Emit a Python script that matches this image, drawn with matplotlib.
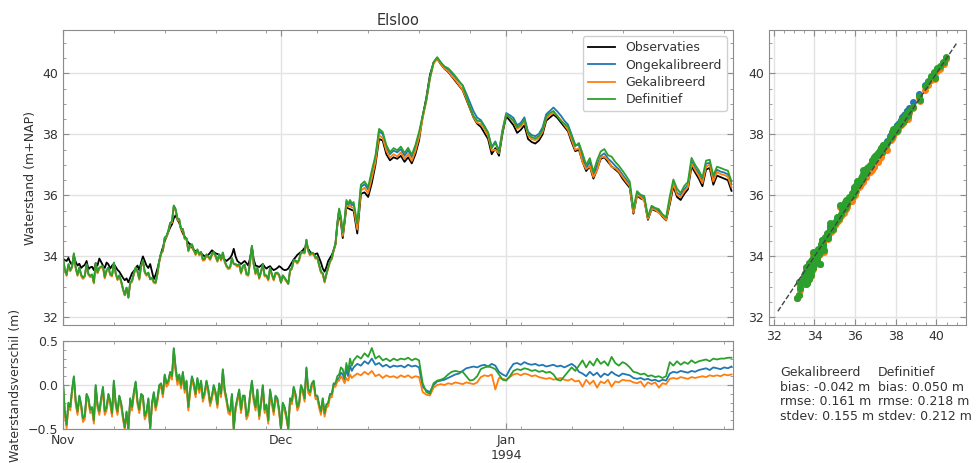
import pandas as pd
import numpy as np
import matplotlib
matplotlib.use("Agg")
import matplotlib.pyplot as plt
import matplotlib.dates as mdates
from matplotlib.ticker import AutoMinorLocator, FuncFormatter

# tijdas: 6-uurlijks t/m 10 dec, daarna 12-uurlijks
tijd = pd.date_range("1993-11-01", periods=160, freq="6h").append(
    pd.date_range("1993-12-11", periods=105, freq="12h"))
maanden = pd.to_datetime(["1993-11-01", "1993-12-01", "1994-01-01"])

# waargenomen waterstand (m+NAP)
observaties = [
    33.92, 33.88, 33.85, 33.95, 33.80, 33.72, 34.00, 33.82, 33.70, 33.76,
    33.62, 33.68, 33.72, 33.85, 33.58, 33.64, 33.66, 33.55, 33.78, 33.70,
    33.93, 33.82, 33.70, 33.62, 33.80, 33.74, 33.60, 33.70, 33.75, 33.66,
    33.56, 33.50, 33.40, 33.30, 33.22, 33.28, 33.15, 33.30, 33.45, 33.52,
    33.60, 33.70, 33.55, 33.80, 34.00, 33.85, 33.70, 33.62, 33.75, 33.50,
    33.25, 33.40, 33.60, 33.85, 34.10, 34.30, 34.50, 34.65, 34.80, 34.95,
    35.05, 35.25, 35.35, 35.20, 35.10, 34.90, 34.75, 34.65, 34.55, 34.45,
    34.40, 34.30, 34.20, 34.18, 34.15, 34.12, 34.10, 34.05, 34.00, 34.02,
    34.05, 34.12, 34.20, 34.15, 34.10, 34.08, 34.05, 34.00, 33.95, 33.90,
    33.85, 33.90, 33.95, 34.05, 34.25, 34.00, 33.85, 33.80, 33.75, 33.80,
    33.85, 33.78, 33.70, 33.95, 34.30, 33.90, 33.70, 33.68, 33.65, 33.70,
    33.75, 33.66, 33.60, 33.65, 33.68, 33.60, 33.55, 33.58, 33.62, 33.68,
    33.64, 33.58, 33.55, 33.56, 33.60, 33.70, 33.80, 33.90, 33.97, 34.05,
    34.10, 34.15, 34.20, 34.28, 34.35, 34.25, 34.15, 34.10, 34.05, 34.08,
    34.10, 33.95, 33.80, 33.60, 33.50, 33.65, 33.85, 33.95, 34.05, 34.20,
    34.40, 35.00, 35.45, 35.10, 34.60, 35.10, 35.60, 35.58, 35.55, 35.52,
    # vanaf 11 dec, 12-uurlijks
    35.50, 34.75, 36.05, 36.10, 35.95, 36.40, 37.00, 37.85, 37.80, 37.35,
    37.15, 37.25, 37.20, 37.30, 37.10, 37.25, 37.05, 37.35, 37.80, 38.60,
    39.20, 39.95, 40.35, 40.48, 40.30, 40.15, 40.05, 39.90, 39.75, 39.60,
    39.45, 39.15, 38.85, 38.55, 38.35, 38.25, 38.05, 37.85, 37.35, 37.55,
    37.30, 38.05, 38.60, 38.45, 38.30, 38.05, 38.15, 38.30, 37.85, 37.75,
    37.70, 37.80, 38.00, 38.45, 38.55, 38.65, 38.55, 38.40, 38.25, 38.10,
    37.75, 37.45, 37.50, 37.10, 36.80, 36.95, 36.55, 36.85, 37.20, 37.25,
    37.10, 36.95, 36.85, 36.75, 36.55, 36.40, 36.25, 35.40, 36.00, 35.90,
    35.85, 35.20, 35.55, 35.50, 35.45, 35.30, 35.18, 35.70, 36.30, 35.95,
    35.85, 36.05, 36.20, 36.95, 36.75, 36.55, 36.30, 36.85, 36.90, 36.35,
    36.65, 36.60, 36.55, 36.50, 36.15,
]

# verschil model - observatie (m)
verschil_ongekalibreerd = [
    0.03, -0.31, -0.46, -0.21, -0.26, -0.06, 0.09, -0.19, -0.31, -0.13,
    -0.23, -0.39, -0.36, -0.11, -0.16, -0.29, -0.26, -0.41, -0.01, -0.23,
    -0.31, -0.16, -0.03, -0.31, -0.26, -0.11, -0.19, -0.33, 0.04, -0.21,
    -0.31, -0.13, -0.21, -0.36, -0.49, -0.31, -0.50, -0.16, -0.26, -0.09,
    0.03, -0.19, -0.29, -0.11, -0.13, -0.36, -0.31, -0.16, -0.50, -0.21,
    -0.09, -0.26, -0.16, -0.01, 0.01, -0.11, 0.11, 0.01, 0.04, 0.14,
    0.09, 0.41, 0.19, 0.04, 0.11, -0.01, 0.14, -0.06, 0.04, -0.26,
    -0.06, 0.09, 0.01, -0.11, 0.07, -0.06, 0.04, -0.16, -0.09, 0.04,
    -0.06, -0.21, -0.13, -0.01, -0.09, -0.23, 0.01, -0.11, 0.17, -0.06,
    -0.16, -0.29, -0.31, -0.11, -0.50, -0.26, -0.16, -0.06, -0.29, -0.13,
    -0.13, -0.36, -0.31, -0.11, 0.04, -0.16, -0.26, -0.06, -0.36, -0.21,
    -0.01, -0.29, -0.23, -0.41, -0.06, -0.19, -0.31, -0.13, -0.16, -0.29,
    -0.50, -0.21, -0.26, -0.36, -0.50, -0.16, -0.19, -0.03, -0.11, -0.26,
    -0.21, -0.01, -0.06, -0.16, 0.19, -0.06, -0.09, 0.01, 0.04, -0.13,
    -0.13, -0.23, -0.31, -0.16, -0.33, -0.23, -0.21, -0.11, -0.11, 0.01,
    0.00, 0.06, 0.08, 0.14, 0.12, 0.06, 0.18, 0.10, 0.22, 0.16,
    0.20, 0.24, 0.22, 0.27, 0.24, 0.30, 0.23, 0.25, 0.21, 0.23,
    0.20, 0.22, 0.21, 0.22, 0.20, 0.23, 0.21, 0.22, 0.20,
    -0.02, -0.06, -0.08, 0.00, 0.04,
    0.05, 0.06, 0.08, 0.10, 0.12, 0.13, 0.16, 0.19, 0.20, 0.21,
    0.20, 0.22, 0.23, 0.21, 0.24, 0.22, 0.15, 0.12,
    0.10, 0.18, 0.24, 0.25, 0.23, 0.26, 0.24, 0.23, 0.24, 0.22,
    0.23, 0.21, 0.22, 0.23, 0.21, 0.22, 0.20, 0.22, 0.24, 0.21,
    0.15, 0.13, 0.10, 0.15, 0.11, 0.14, 0.09, 0.13, 0.11, 0.15, 0.12, 0.10, 0.13, 0.12,
    0.11, 0.08, 0.07, 0.08, 0.06, 0.07, 0.05, 0.06, 0.04, 0.06, 0.05,
    0.13, 0.15, 0.14, 0.16, 0.15, 0.14, 0.16, 0.15, 0.17,
    0.18, 0.19, 0.17, 0.20, 0.19, 0.18, 0.20, 0.19, 0.21,
]
verschil_gekalibreerd = [
    0.00, -0.34, -0.49, -0.24, -0.29, -0.09, 0.06, -0.22, -0.34, -0.16,
    -0.26, -0.42, -0.39, -0.14, -0.19, -0.32, -0.29, -0.44, -0.04, -0.26,
    -0.34, -0.19, -0.06, -0.34, -0.29, -0.14, -0.22, -0.36, 0.01, -0.24,
    -0.34, -0.16, -0.24, -0.39, -0.50, -0.34, -0.50, -0.19, -0.29, -0.12,
    0.00, -0.22, -0.32, -0.14, -0.16, -0.39, -0.34, -0.19, -0.50, -0.24,
    -0.12, -0.29, -0.19, -0.04, -0.02, -0.14, 0.08, -0.02, 0.01, 0.11,
    0.06, 0.37, 0.15, 0.00, 0.07, -0.04, 0.10, -0.09, 0.01, -0.29,
    -0.09, 0.06, -0.02, -0.14, 0.04, -0.09, 0.01, -0.19, -0.12, 0.01,
    -0.09, -0.24, -0.16, -0.04, -0.12, -0.26, -0.02, -0.14, 0.14, -0.09,
    -0.19, -0.32, -0.34, -0.14, -0.50, -0.29, -0.19, -0.09, -0.32, -0.16,
    -0.16, -0.39, -0.34, -0.14, 0.01, -0.19, -0.29, -0.09, -0.39, -0.24,
    -0.04, -0.32, -0.26, -0.44, -0.09, -0.22, -0.34, -0.16, -0.19, -0.32,
    -0.50, -0.24, -0.29, -0.39, -0.50, -0.19, -0.22, -0.06, -0.14, -0.29,
    -0.24, -0.04, -0.09, -0.19, 0.16, -0.09, -0.12, -0.02, 0.01, -0.16,
    -0.16, -0.26, -0.34, -0.19, -0.36, -0.26, -0.24, -0.14, -0.14, -0.02,
    -0.02, 0.04, 0.05, 0.10, 0.07, 0.02, 0.08, 0.05, 0.12, 0.08,
    0.10, 0.13, 0.11, 0.15, 0.12, 0.16, 0.10, 0.12, 0.08, 0.11,
    0.09, 0.10, 0.08, 0.11, 0.09, 0.11, 0.08, 0.10, 0.09,
    -0.08, -0.11, -0.12, -0.03, 0.00,
    0.01, 0.00, 0.02, 0.01, 0.03, 0.02, 0.01, 0.03, 0.02, 0.01,
    0.03, 0.09, 0.11, 0.10, 0.12, -0.05, 0.08, 0.07,
    0.06, 0.09, 0.12, 0.13, 0.11, 0.13, 0.12, 0.10, 0.11, 0.09,
    0.08, 0.07, 0.08, 0.06, 0.07, 0.08, 0.06, 0.05, 0.07, 0.04,
    0.05, -0.02, 0.06, 0.01, 0.05, -0.03, 0.04, 0.02, 0.06, -0.02, 0.04, 0.03, 0.06, 0.05,
    0.05, 0.03, 0.02, 0.04, -0.02, 0.03, 0.01, 0.03, -0.03, 0.02, 0.01,
    0.07, 0.08, 0.07, 0.09, 0.08, 0.07, 0.09, 0.08, 0.09,
    0.10, 0.09, 0.11, 0.10, 0.11, 0.10, 0.12, 0.11, 0.12,
]
verschil_definitief = [
    0.04, -0.30, -0.45, -0.20, -0.25, -0.05, 0.10, -0.18, -0.30, -0.12,
    -0.22, -0.38, -0.35, -0.10, -0.15, -0.28, -0.25, -0.40, 0.00, -0.22,
    -0.30, -0.15, -0.02, -0.30, -0.25, -0.10, -0.18, -0.32, 0.05, -0.20,
    -0.30, -0.12, -0.20, -0.35, -0.48, -0.30, -0.50, -0.15, -0.25, -0.08,
    0.04, -0.18, -0.28, -0.10, -0.12, -0.35, -0.30, -0.15, -0.50, -0.20,
    -0.08, -0.25, -0.15, 0.00, 0.02, -0.10, 0.12, 0.02, 0.05, 0.15,
    0.10, 0.42, 0.20, 0.05, 0.12, 0.00, 0.15, -0.05, 0.05, -0.25,
    -0.05, 0.10, 0.02, -0.10, 0.08, -0.05, 0.05, -0.15, -0.08, 0.05,
    -0.05, -0.20, -0.12, 0.00, -0.08, -0.22, 0.02, -0.10, 0.18, -0.05,
    -0.15, -0.28, -0.30, -0.10, -0.50, -0.25, -0.15, -0.05, -0.28, -0.12,
    -0.12, -0.35, -0.30, -0.10, 0.05, -0.15, -0.25, -0.05, -0.35, -0.20,
    0.00, -0.28, -0.22, -0.40, -0.05, -0.18, -0.30, -0.12, -0.15, -0.28,
    -0.50, -0.20, -0.25, -0.35, -0.50, -0.15, -0.18, -0.02, -0.10, -0.25,
    -0.20, 0.00, -0.05, -0.15, 0.20, -0.05, -0.08, 0.02, 0.05, -0.12,
    -0.12, -0.22, -0.30, -0.15, -0.32, -0.22, -0.20, -0.10, -0.10, 0.02,
    0.02, 0.10, 0.12, 0.20, 0.18, 0.08, 0.25, 0.15, 0.30, 0.22,
    0.28, 0.33, 0.30, 0.36, 0.32, 0.42, 0.30, 0.33, 0.28, 0.30,
    0.27, 0.30, 0.28, 0.30, 0.29, 0.31, 0.28, 0.30, 0.28,
    0.02, -0.08, -0.10, 0.02, 0.05,
    0.06, 0.08, 0.12, 0.15, 0.16, 0.15, 0.15, 0.10, 0.05, 0.06,
    0.10, 0.18, 0.20, 0.21, 0.20, 0.18, 0.12, 0.06,
    0.05, 0.10, 0.16, 0.18, 0.17, 0.19, 0.18, 0.16, 0.17, 0.15,
    0.16, 0.14, 0.15, 0.12, 0.06, 0.05, 0.10, 0.15, 0.20, 0.16,
    0.22, 0.28, 0.20, 0.27, 0.22, 0.30, 0.24, 0.27, 0.22, 0.32, 0.25, 0.22, 0.26, 0.24,
    0.20, 0.15, 0.14, 0.12, 0.13, 0.10, 0.11, 0.09, 0.10, 0.08, 0.10,
    0.26, 0.22, 0.27, 0.23, 0.26, 0.24, 0.28, 0.25, 0.27,
    0.28, 0.29, 0.27, 0.30, 0.29, 0.30, 0.30, 0.31, 0.31,
]

namen = ["Ongekalibreerd", "Gekalibreerd", "Definitief"]
kleuren = ["#1f77b4", "#ff7f0e", "#2ca02c"]
verschillen = [verschil_ongekalibreerd, verschil_gekalibreerd, verschil_definitief]

statistiek_gek = ["Gekalibreerd", "bias: -0.042 m", "rmse: 0.161 m", "stdev: 0.155 m"]
statistiek_def = ["Definitief", "bias: 0.050 m", "rmse: 0.218 m", "stdev: 0.212 m"]

obs = np.array(observaties)
modellen = [obs + np.array(v) for v in verschillen]

plt.rcParams["font.family"] = "DejaVu Sans"
plt.rcParams["font.size"] = 9
tekstkleur = "#333333"
randkleur = "#8c8c8c"
gridkleur = "#e3e3e3"


def opmaak(ax):
    for sp in ax.spines.values():
        sp.set_color(randkleur)
    ax.tick_params(which="both", direction="in", top=True, right=True,
                   color=randkleur, labelcolor=tekstkleur, labelsize=9)
    ax.tick_params(which="major", length=4)
    ax.tick_params(which="minor", length=2)
    ax.grid(True, which="major", color=gridkleur, lw=1)
    ax.set_axisbelow(True)


def datum_label(x, pos):
    d = mdates.num2date(x)
    if d.month == 1:
        return d.strftime("%b\n%Y")
    return d.strftime("%b")


fig = plt.figure(figsize=(9.78, 4.63), dpi=100)
ax1 = fig.add_axes([0.0644, 0.298, 0.6851, 0.637])
ax2 = fig.add_axes([0.0644, 0.0734, 0.6851, 0.1901], sharex=ax1)
ax3 = fig.add_axes([0.786, 0.298, 0.2017, 0.637])

# bovenste paneel: waterstand
ax1.plot(tijd, obs, color="black", lw=1.3, label="Observaties")
for naam, kleur, mod in zip(namen, kleuren, modellen):
    ax1.plot(tijd, mod, color=kleur, lw=1.3, label=naam)
ax1.set_ylim(31.75, 41.42)
ax1.set_title("Elsloo", fontsize=10.5, color=tekstkleur, pad=4)
ax1.set_ylabel("Waterstand (m+NAP)", color=tekstkleur)
leg = ax1.legend(loc="upper right", fontsize=9, framealpha=1,
                 borderpad=0.4, labelspacing=0.35, handlelength=2.2)
leg.get_frame().set_edgecolor("#d0d0d0")
for t in leg.get_texts():
    t.set_color(tekstkleur)

# onderste paneel: verschil
for naam, kleur, v in zip(namen, kleuren, verschillen):
    ax2.plot(tijd, v, color=kleur, lw=1.3)
ax2.set_ylim(-0.5, 0.5)
ax2.set_yticks([-0.5, 0.0, 0.5])
ax2.set_ylabel("Waterstandsverschil (m)", color=tekstkleur)

ax1.set_xlim(pd.Timestamp("1993-11-01"), pd.Timestamp("1994-02-01 05:00"))
for ax in (ax1, ax2):
    ax.set_xticks(maanden)
    ax.xaxis.set_minor_locator(mdates.WeekdayLocator(byweekday=mdates.MO))
    ax.yaxis.set_minor_locator(AutoMinorLocator())
    opmaak(ax)
ax2.xaxis.set_major_formatter(FuncFormatter(datum_label))
plt.setp(ax1.get_xticklabels(), visible=False)
for lbl in ax2.get_xticklabels():
    lbl.set_horizontalalignment("center")

# scatter paneel
for kleur, mod in zip(kleuren, modellen):
    ax3.plot(obs, mod, "o", color=kleur, ms=4, mec=kleur)
ax3.plot([32.2, 41.0], [32.2, 41.0], "--", color="#444444", lw=1)
ax3.set_xlim(31.75, 41.45)
ax3.set_ylim(31.75, 41.42)
ax3.set_xticks([32, 34, 36, 38, 40])
ax3.set_yticks([32, 34, 36, 38, 40])
ax3.xaxis.set_minor_locator(AutoMinorLocator())
ax3.yaxis.set_minor_locator(AutoMinorLocator())
opmaak(ax3)

# statistiek
fig.text(0.7975, 0.209, "\n".join(statistiek_gek), va="top", ha="left",
         fontsize=9, color=tekstkleur, linespacing=1.15)
fig.text(0.8978, 0.209, "\n".join(statistiek_def), va="top", ha="left",
         fontsize=9, color=tekstkleur, linespacing=1.15)

fig.savefig("out.png", dpi=100)
